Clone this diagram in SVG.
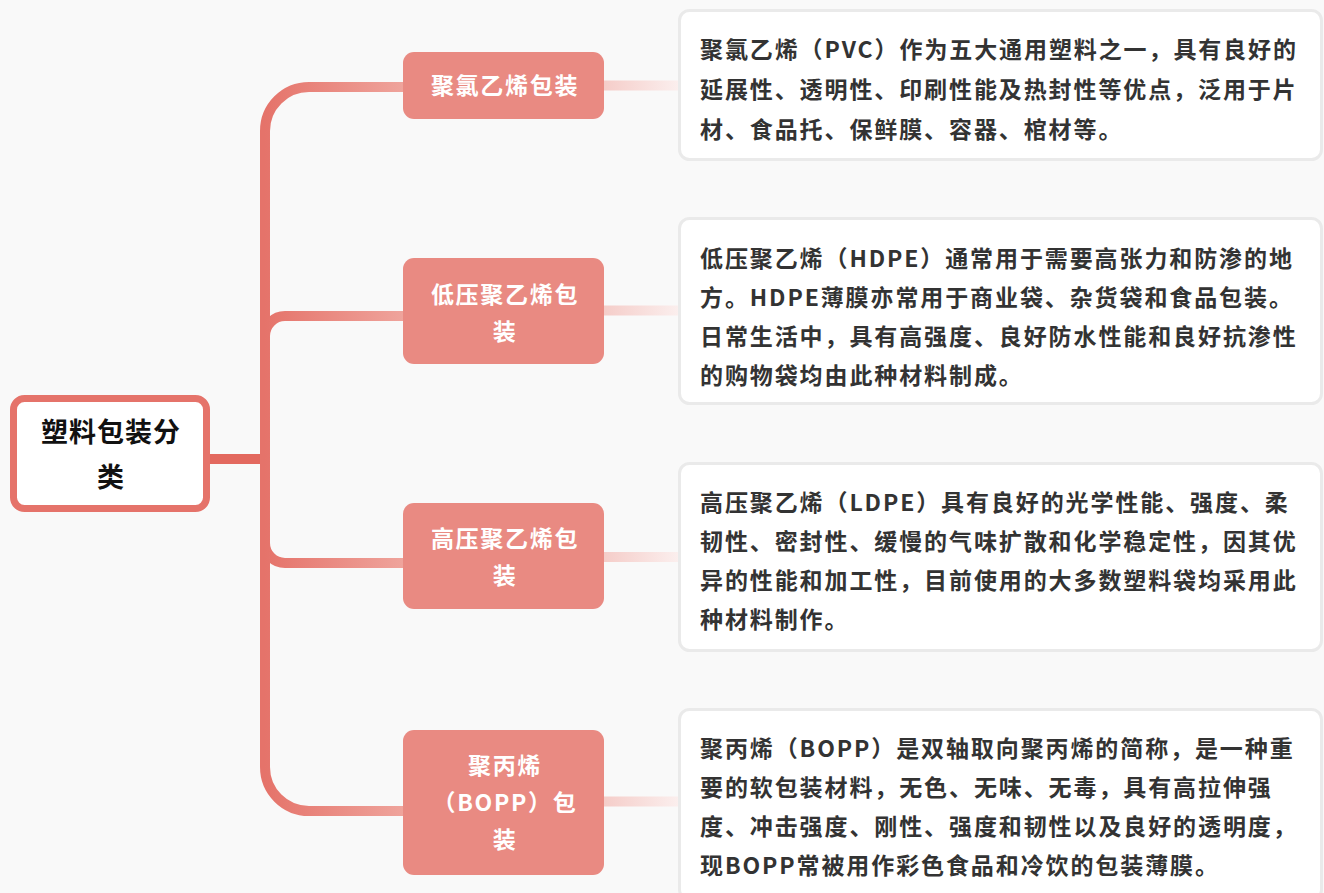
<svg xmlns="http://www.w3.org/2000/svg" width="1324" height="893" viewBox="0 0 1324 893">
<defs>
<linearGradient id="lg" gradientUnits="userSpaceOnUse" x1="265" y1="0" x2="404" y2="0">
<stop offset="0" stop-color="#E5736A"/><stop offset="1" stop-color="#EFA49C"/>
</linearGradient>
<linearGradient id="rg" gradientUnits="userSpaceOnUse" x1="604" y1="0" x2="679" y2="0">
<stop offset="0" stop-color="#F5CDC9"/><stop offset="1" stop-color="#FBEFEE"/>
</linearGradient>
<style>
.t{font-family:"Noto Sans CJK SC","Noto Sans",sans-serif;font-weight:bold;}
.desc{font-size:23px;fill:#333333;letter-spacing:1.9px;}
.bn{fill:#E98A82;}
.bt{font-size:23px;fill:#FFFFFF;letter-spacing:1.7px;text-anchor:middle;}
.box{fill:#FFFFFF;stroke:#EAEAEA;stroke-width:3;}
.c{fill:none;stroke:url(#lg);stroke-width:10;}
.rc{fill:none;stroke:url(#rg);stroke-width:10;}
</style>
</defs>
<rect x="0" y="0" width="1324" height="893" fill="#F9F9F9"/>
<g id="connectors">
<path d="M208 459 H266" fill="none" stroke="#E3695F" stroke-width="10"/>
<path class="c" d="M265 459 V131 A44 44 0 0 1 309 87 H404"/>
<path class="c" d="M265 459 V336 A20 20 0 0 1 285 316 H404"/>
<path class="c" d="M265 459 V543 A20 20 0 0 0 285 563 H404"/>
<path class="c" d="M265 459 V767 A44 44 0 0 0 309 811 H404"/>
<path class="rc" d="M603 85.5 H680"/>
<path class="rc" d="M603 310.5 H680"/>
<path class="rc" d="M603 557 H680"/>
<path class="rc" d="M603 801.5 H680"/>
</g>
<g id="root">
<rect x="13.5" y="398.5" width="193" height="110" rx="11" fill="#FFFFFF" stroke="#E5736A" stroke-width="7"/>
<text class="t" x="111" y="442" font-size="27" fill="#111111" text-anchor="middle" letter-spacing="1">塑料包装分</text>
<text class="t" x="111" y="487" font-size="27" fill="#111111" text-anchor="middle" letter-spacing="1">类</text>
</g>
<g id="node-pvc">
<rect class="bn" x="403" y="52" width="201" height="67" rx="11"/>
<text class="t bt" x="505" y="93.5">聚氯乙烯包装</text>
</g>
<g id="node-hdpe">
<rect class="bn" x="403" y="258" width="201" height="106" rx="11"/>
<text class="t bt" x="505" y="303">低压聚乙烯包</text>
<text class="t bt" x="505" y="340">装</text>
</g>
<g id="node-ldpe">
<rect class="bn" x="403" y="503" width="201" height="106" rx="11"/>
<text class="t bt" x="505" y="547">高压聚乙烯包</text>
<text class="t bt" x="505" y="584">装</text>
</g>
<g id="node-bopp">
<rect class="bn" x="403" y="730" width="201" height="145" rx="11"/>
<text class="t bt" x="505" y="774">聚丙烯</text>
<text class="t bt" x="505" y="811">（BOPP）包</text>
<text class="t bt" x="505" y="848">装</text>
</g>
<g id="desc-pvc">
<rect class="box" x="679.5" y="10.5" width="642" height="149" rx="10"/>
<text class="t desc" x="700" y="58">聚氯乙烯（PVC）作为五大通用塑料之一，具有良好的</text>
<text class="t desc" x="700" y="98">延展性、透明性、印刷性能及热封性等优点，泛用于片</text>
<text class="t desc" x="700" y="138">材、食品托、保鲜膜、容器、棺材等。</text>
</g>
<g id="desc-hdpe">
<rect class="box" x="679.5" y="218.5" width="642" height="185" rx="10"/>
<text class="t desc" x="700" y="267">低压聚乙烯（HDPE）通常用于需要高张力和防渗的地</text>
<text class="t desc" x="700" y="306">方。HDPE薄膜亦常用于商业袋、杂货袋和食品包装。</text>
<text class="t desc" x="700" y="345">日常生活中，具有高强度、良好防水性能和良好抗渗性</text>
<text class="t desc" x="700" y="384">的购物袋均由此种材料制成。</text>
</g>
<g id="desc-ldpe">
<rect class="box" x="679.5" y="463.5" width="642" height="187" rx="10"/>
<text class="t desc" x="700" y="511">高压聚乙烯（LDPE）具有良好的光学性能、强度、柔</text>
<text class="t desc" x="700" y="550">韧性、密封性、缓慢的气味扩散和化学稳定性，因其优</text>
<text class="t desc" x="700" y="589">异的性能和加工性，目前使用的大多数塑料袋均采用此</text>
<text class="t desc" x="700" y="628">种材料制作。</text>
</g>
<g id="desc-bopp">
<rect class="box" x="679.5" y="709.5" width="642" height="190" rx="10"/>
<text class="t desc" x="700" y="757">聚丙烯（BOPP）是双轴取向聚丙烯的简称，是一种重</text>
<text class="t desc" x="700" y="796">要的软包装材料，无色、无味、无毒，具有高拉伸强</text>
<text class="t desc" x="700" y="835">度、冲击强度、刚性、强度和韧性以及良好的透明度，</text>
<text class="t desc" x="700" y="874">现BOPP常被用作彩色食品和冷饮的包装薄膜。</text>
</g>
</svg>
